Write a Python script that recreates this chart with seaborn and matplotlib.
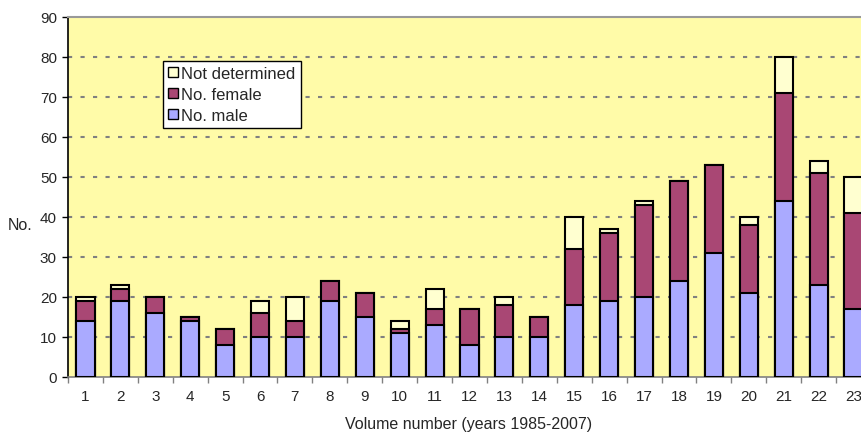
import matplotlib
matplotlib.use("Agg")
import matplotlib.pyplot as plt
import seaborn as sns
import pandas as pd
import numpy as np
from matplotlib.patches import Patch

# data
volumes = [str(v) for v in range(1, 24)]
male = [14, 19, 16, 14, 8, 10, 10, 19, 15, 11, 13, 8, 10, 10, 18, 19, 20, 24, 31, 21, 44, 23, 17]
female = [5, 3, 4, 1, 4, 6, 4, 5, 6, 1, 4, 9, 8, 5, 14, 17, 23, 25, 22, 17, 27, 28, 24]
not_determined = [1, 1, 0, 0, 0, 3, 6, 0, 0, 2, 5, 0, 2, 0, 8, 1, 1, 0, 0, 2, 9, 3, 9]

df = pd.DataFrame({"volume": volumes, "male": male, "female": female, "nd": not_determined})
df["mf"] = df["male"] + df["female"]
df["total"] = df["mf"] + df["nd"]

c_male = "#AAAAFF"
c_female = "#A94774"
c_nd = "#FFFFD0"
c_bg = "#FFFBA8"

sns.set_style("white")
plt.rcParams["font.family"] = ["Liberation Sans", "DejaVu Sans"]

fig = plt.figure(figsize=(8.62, 4.35), dpi=100)
ax = fig.add_axes([68 / 862, 57 / 435, 803 / 862, 360.5 / 435])
ax.set_facecolor(c_bg)

# stacked bars drawn as cumulative heights, back to front
for col, color in [("total", c_nd), ("mf", c_female), ("male", c_male)]:
    sns.barplot(data=df, x="volume", y=col, color=color, width=0.52,
                edgecolor="black", linewidth=1.5, saturation=1, ax=ax, zorder=3)

ax.set_ylim(0, 90)
ax.set_xlim(-0.5, 22.5)
ax.set_yticks(range(0, 91, 10))
for y in range(10, 90, 10):
    ax.axhline(y, color="#808080", lw=1.5, ls=(0, (2, 4)), zorder=1)

ax.spines["top"].set_visible(True)
ax.spines["top"].set_color("#999999")
ax.spines["top"].set_linewidth(1.5)
ax.spines["right"].set_visible(False)
ax.spines["bottom"].set_color("#808080")
ax.spines["bottom"].set_linewidth(1.2)
ax.spines["left"].set_color("black")
ax.spines["left"].set_linewidth(1.2)

ax.tick_params(axis="y", length=4, width=1, color="black", pad=4, labelsize=11, left=True)
ax.set_xticks(np.arange(-0.5, 23, 1), minor=True)
ax.tick_params(axis="x", which="major", length=0, pad=9, labelsize=11)
ax.tick_params(axis="x", which="minor", length=4, width=1, color="#808080", bottom=True)

ax.set_xlabel("")
ax.set_ylabel("")
fig.text(469 / 862, 1 - 425 / 435, "Volume number (years 1985-2007)", ha="center", va="center", fontsize=11.5)
fig.text(20 / 862, 1 - 226 / 435, "No.", ha="center", va="center", fontsize=11.5)

handles = [Patch(facecolor=c_nd, edgecolor="black", lw=1),
           Patch(facecolor=c_female, edgecolor="black", lw=1),
           Patch(facecolor=c_male, edgecolor="black", lw=1)]
leg = ax.legend(handles, ["Not determined", "No. female", "No. male"],
                loc="upper left", bbox_to_anchor=(95 / 803, 1 - 44.5 / 360.5),
                fontsize=12, frameon=True, fancybox=False, borderpad=0.3,
                handlelength=0.6, handleheight=0.6, handletextpad=0.2, labelspacing=0.36,
                borderaxespad=0)
leg.get_frame().set_edgecolor("black")
leg.get_frame().set_linewidth(1)
leg.get_frame().set_facecolor("white")
leg.get_frame().set_alpha(1)
leg.set_zorder(5)

fig.savefig("out.png", dpi=100)
